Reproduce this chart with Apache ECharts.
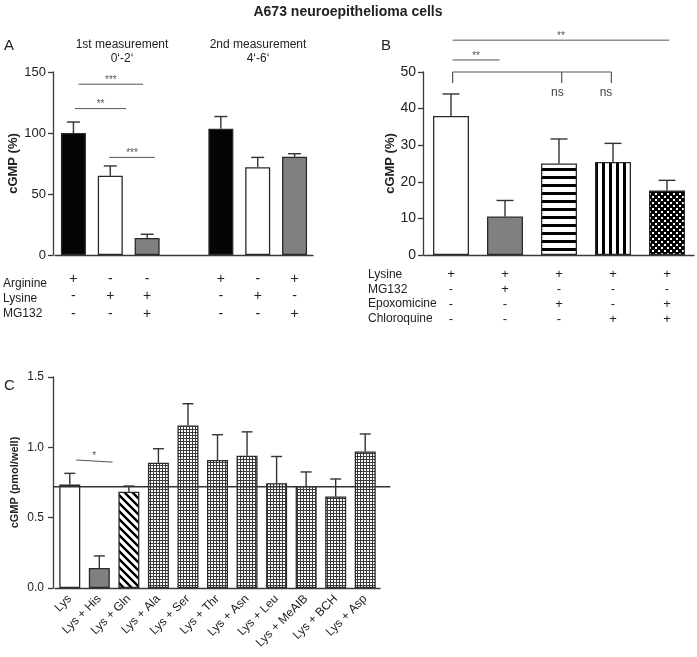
<!DOCTYPE html>
<html><head><meta charset="utf-8">
<script src="https://cdn.jsdelivr.net/npm/echarts@6/dist/echarts.min.js"></script>
<style>html,body{margin:0;padding:0;background:#fff}#c{width:697px;height:657px}</style>
</head><body><div id="c"></div><script>
// ---------- Panel A data ----------
const catsA = ['Arg 1', 'Lys 1', 'Lys+MG132 1', 'gap', 'Arg 2', 'Lys 2', 'Arg+MG132 2'];
const argA  = ['+', '-', '-', '', '+', '-', '+'];
const lysA  = ['-', '+', '+', '', '-', '+', '-'];
const mgA   = ['-', '-', '+', '', '-', '-', '+'];
const valA  = [100, 65, 14, null, 103.5, 72, 80.5];
const errA  = [9, 8, 3, null, 10, 8, 2.5];
const fillA = ['black', 'white', 'gray', null, 'black', 'white', 'gray'];
const rowsA = ['Arginine', 'Lysine', 'MG132'];
const sigA = [
  {x1: 0.14, x2: 1.89, y: 140, label: '***'},
  {x1: 0.04, x2: 1.43, y: 120, label: '**'},
  {x1: 0.97, x2: 2.21, y: 80, label: '***'}
];
// ---------- Panel B data ----------
const catsB = ['Lys', 'Lys+MG132', 'Lys+Epox', 'Lys+Chlq', 'Lys+Epox+Chlq'];
const lysB  = ['+', '+', '+', '+', '+'];
const mgB   = ['-', '+', '-', '-', '-'];
const epoB  = ['-', '-', '+', '-', '+'];
const chlB  = ['-', '-', '-', '+', '+'];
const valB  = [38, 10.5, 25, 25.4, 17.6];
const errB  = [6, 4.4, 6.7, 5.1, 2.8];
const fillB = ['white', 'gray', 'hstripe', 'vstripe', 'check'];
const rowsB = ['Lysine', 'MG132', 'Epoxomicine', 'Chloroquine'];
const sigB = [
  {x1: 0.03, x2: 4.04, y: 58.7, label: '**'},
  {x1: 0.03, x2: 0.90, y: 53.3, label: '**'}
];
const bracketB = {xs: [0.03, 2.05, 2.97], y: 50, drop: 47, nsY: 44.3, nsX: [1.97, 2.87], label: 'ns'};
// ---------- Panel C data ----------
const catsC = ['Lys', 'Lys + His', 'Lys + Gln', 'Lys + Ala', 'Lys + Ser', 'Lys + Thr', 'Lys + Asn', 'Lys + Leu', 'Lys + MeAIB', 'Lys + BCH', 'Lys + Asp'];
const valC  = [0.735, 0.143, 0.685, 0.89, 1.155, 0.91, 0.94, 0.745, 0.725, 0.65, 0.97];
const errC  = [0.08, 0.085, 0.04, 0.10, 0.155, 0.18, 0.17, 0.19, 0.10, 0.125, 0.125];
const fillC = ['white', 'gray', 'diag', 'grid', 'grid', 'grid', 'grid', 'grid', 'grid', 'grid', 'grid'];
const refLineC = 0.72;
const sigC = [{x1: 0.21, x2: 1.45, y1: 0.91, y2: 0.895, label: '*'}];

const FONT = '"Liberation Sans", Arial, Helvetica, sans-serif';
const AX = '#3a3a3a';
const TXT = '#222';

function pat(w, h, draw) {
  const c = document.createElement('canvas'); c.width = w; c.height = h;
  const g = c.getContext('2d'); g.fillStyle = '#fff'; g.fillRect(0, 0, w, h); draw(g);
  return {image: c, repeat: 'repeat'};
}
const FILLS = {
  black: '#050505',
  white: '#ffffff',
  gray: '#808080',
  hstripe: pat(8, 8, g => { g.fillStyle = '#000'; g.fillRect(0, 0, 8, 3); }),
  vstripe: pat(7, 7, g => { g.fillStyle = '#000'; g.fillRect(0, 0, 3, 7); }),
  check: pat(6, 6, g => { g.fillStyle = '#000'; g.fillRect(0, 0, 6, 6); g.fillStyle = '#fff'; g.fillRect(1, 1, 2, 2); g.fillRect(4, 4, 2, 2); }),
  diag: pat(8, 8, g => { g.strokeStyle = '#000'; g.lineWidth = 2.4; g.beginPath();
    g.moveTo(-1, -1); g.lineTo(9, 9); g.moveTo(7, -1); g.lineTo(9, 1); g.moveTo(-1, 7); g.lineTo(1, 9); g.stroke(); }),
  grid: pat(3, 3, g => { g.fillStyle = '#3a3a3a'; g.fillRect(0, 0, 3, 1); g.fillRect(0, 0, 1, 3); })
};

function barData(vals, fills) {
  return vals.map((v, i) => v == null ? '-' : ({
    value: v,
    itemStyle: {color: FILLS[fills[i]], borderColor: '#2a2a2a', borderWidth: 1.3}
  }));
}
function errSeries(xi, yi, vals, errs, capW) {
  const data = [];
  vals.forEach((v, i) => { if (v != null) data.push([i, v, errs[i]]); });
  return {
    type: 'custom', xAxisIndex: xi, yAxisIndex: yi, z: 1, silent: true, data,
    renderItem: (params, api) => {
      const x = api.value(0), v = api.value(1), e = api.value(2);
      const p0 = api.coord([x, v]), p1 = api.coord([x, v + e]);
      const st = {stroke: '#333', lineWidth: 1.4};
      return {type: 'group', children: [
        {type: 'line', shape: {x1: p0[0], y1: p0[1], x2: p1[0], y2: p1[1]}, style: st},
        {type: 'line', shape: {x1: p1[0] - capW / 2, y1: p1[1], x2: p1[0] + capW / 2, y2: p1[1]}, style: st}
      ]};
    }
  };
}
function sigSeries(xi, yi, list, fontSize) {
  return {
    type: 'custom', xAxisIndex: xi, yAxisIndex: yi, z: 5, silent: true, clip: false,
    data: list.map(s => [s.x1, s.y1 != null ? s.y1 : s.y]),
    renderItem: (params, api) => {
      const s = list[params.dataIndex];
      const a = api.coord([s.x1, s.y1 != null ? s.y1 : s.y]);
      const b = api.coord([s.x2, s.y2 != null ? s.y2 : s.y]);
      return {type: 'group', children: [
        {type: 'line', shape: {x1: a[0], y1: a[1], x2: b[0], y2: b[1]}, style: {stroke: '#555', lineWidth: 1}},
        {type: 'text', x: (a[0] + b[0]) / 2, y: Math.min(a[1], b[1]) + 1,
          style: {text: s.label, textAlign: 'center', textVerticalAlign: 'bottom', fill: '#555', font: fontSize + 'px ' + FONT}}
      ]};
    }
  };
}
function bracketSeries(xi, yi, br) {
  return {
    type: 'custom', xAxisIndex: xi, yAxisIndex: yi, z: 5, silent: true, clip: false,
    data: [[br.xs[0], br.y]],
    renderItem: (params, api) => {
      const st = {stroke: '#555', lineWidth: 1.2};
      const L = api.coord([br.xs[0], br.y]), R = api.coord([br.xs[br.xs.length - 1], br.y]);
      const ch = [{type: 'line', shape: {x1: L[0], y1: L[1], x2: R[0], y2: R[1]}, style: st}];
      br.xs.forEach(x => {
        const t = api.coord([x, br.y]), d = api.coord([x, br.drop]);
        ch.push({type: 'line', shape: {x1: t[0], y1: t[1], x2: d[0], y2: d[1]}, style: st});
      });
      br.nsX.forEach(x => {
        const p = api.coord([x, br.nsY]);
        ch.push({type: 'text', x: p[0], y: p[1], style: {text: br.label, textAlign: 'center', textVerticalAlign: 'middle', fill: '#444', font: '12px ' + FONT}});
      });
      return {type: 'group', children: ch};
    }
  };
}
function lineSeries(xi, yi, yv, x1, x2) {
  return {
    type: 'custom', xAxisIndex: xi, yAxisIndex: yi, z: 6, silent: true, clip: false,
    data: [[x1, yv]],
    renderItem: (params, api) => {
      const a = api.coord([x1, yv]), b = api.coord([x2, yv]);
      return {type: 'line', shape: {x1: a[0], y1: a[1], x2: b[0], y2: b[1]}, style: {stroke: '#333', lineWidth: 1.4}};
    }
  };
}

const axLine = {onZero: false, lineStyle: {color: AX, width: 1.3}};
const axTick = {alignWithLabel: true, length: 5, lineStyle: {color: AX, width: 1.3}};
function yAx(gi, max, interval, name, nameGap, fs, nfs, margin, offset, fmt) {
  return {
    type: 'value', gridIndex: gi, min: 0, max, interval, offset,
    axisLine: {show: true, onZero: false, lineStyle: {color: AX, width: 1.3}},
    axisTick: {show: true, length: 5, lineStyle: {color: AX, width: 1.3}},
    splitLine: {show: false},
    axisLabel: {fontSize: fs, color: TXT, margin, formatter: fmt},
    name, nameLocation: 'middle', nameRotate: 90, nameGap,
    nameTextStyle: {fontSize: nfs, fontWeight: 'bold', color: TXT}
  };
}
function graphText(text, x, y, opt) {
  return Object.assign({type: 'text', x, y, style: Object.assign({text, fill: TXT, font: '12px ' + FONT, textVerticalAlign: 'middle'}, opt || {})});
}

const chart = echarts.init(document.getElementById('c'), null, {renderer: 'canvas'});
const graphics = [
  graphText('A673 neuroepithelioma cells', 348, 12, {font: 'bold 14px ' + FONT, textAlign: 'center'}),
  graphText('A', 4, 46, {font: '15px ' + FONT}),
  graphText('B', 381, 46, {font: '15px ' + FONT}),
  graphText('C', 4, 386, {font: '15px ' + FONT}),
  graphText('1st measurement', 122, 45, {textAlign: 'center'}),
  graphText('0\u2018-2\u2018', 122, 59, {textAlign: 'center'}),
  graphText('2nd measurement', 258, 45, {textAlign: 'center'}),
  graphText('4\u2018-6\u2018', 258, 59, {textAlign: 'center'})
];
const rowYA = [284, 299, 314];
rowsA.forEach((t, i) => graphics.push(graphText(t, 3, rowYA[i])));
const rowYB = [275, 290, 304, 319];
rowsB.forEach((t, i) => graphics.push(graphText(t, 368, rowYB[i])));

const option = {
  animation: false,
  textStyle: {fontFamily: FONT},
  graphic: graphics,
  grid: [
    {left: 55, top: 72, width: 258, height: 183},
    {left: 424, top: 72, width: 270, height: 183},
    {left: 55, top: 377, width: 325, height: 211}
  ],
  xAxis: [
    {type: 'category', gridIndex: 0, data: catsA, axisLine: axLine, axisTick: axTick,
      axisLabel: {interval: 0, margin: 15, lineHeight: 17.5, fontSize: 14, color: TXT,
        formatter: (v, i) => [argA[i], lysA[i], mgA[i]].join('\n')}},
    {type: 'category', gridIndex: 1, data: catsB, axisLine: axLine, axisTick: axTick,
      axisLabel: {interval: 0, margin: 12, lineHeight: 15, fontSize: 13, color: TXT,
        formatter: (v, i) => [lysB[i], mgB[i], epoB[i], chlB[i]].join('\n')}},
    {type: 'category', gridIndex: 2, data: catsC, axisLine: axLine, axisTick: axTick,
      axisLabel: {interval: 0, rotate: 45, margin: 9, fontSize: 12, color: TXT}},
    {type: 'value', gridIndex: 0, min: -0.5, max: catsA.length - 0.5, show: false},
    {type: 'value', gridIndex: 1, min: -0.5, max: catsB.length - 0.5, show: false},
    {type: 'value', gridIndex: 2, min: -0.5, max: catsC.length - 0.5, show: false}
  ],
  yAxis: [
    yAx(0, 150, 50, 'cGMP (%)', 33, 13, 13, 7, 2),
    yAx(1, 50, 10, 'cGMP (%)', 19, 14, 13, 7, 1),
    yAx(2, 1.5, 0.5, 'cGMP (pmol/well)', 33, 12, 11, 9, 2, v => v.toFixed(1))
  ],
  series: [
    errSeries(0, 0, valA, errA, 13),
    errSeries(1, 1, valB, errB, 17),
    errSeries(2, 2, valC, errC, 11),
    {type: 'bar', xAxisIndex: 0, yAxisIndex: 0, barWidth: 25, z: 2, data: barData(valA, fillA)},
    {type: 'bar', xAxisIndex: 1, yAxisIndex: 1, barWidth: 36, z: 2, data: barData(valB, fillB)},
    {type: 'bar', xAxisIndex: 2, yAxisIndex: 2, barWidth: 21, z: 2, data: barData(valC, fillC)},
    sigSeries(3, 0, sigA, 10),
    sigSeries(4, 1, sigB, 10),
    bracketSeries(4, 1, bracketB),
    sigSeries(5, 2, sigC, 10),
    lineSeries(5, 2, refLineC, -0.57, 10.85)
  ]
};
chart.setOption(option);
</script></body></html>
